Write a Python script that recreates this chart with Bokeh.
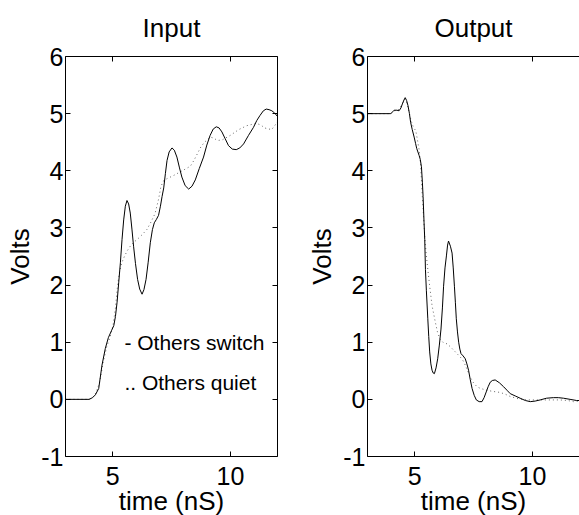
from bokeh.plotting import figure
from bokeh.layouts import row
from bokeh.models import Range1d, LinearAxis, FixedTicker, CustomJSTickFormatter
from bokeh.core.properties import value
from bokeh.embed import file_html
from bokeh.resources import INLINE

FONT = "Liberation Sans"

# ---------------- data ----------------
x_ticks = [5, 10]
y_ticks = [-1, 0, 1, 2, 3, 4, 5, 6]

in_switch_t = [3.0, 4.0, 4.15, 4.27, 4.41, 4.55, 4.69, 4.82, 4.95, 5.05, 5.12, 5.19, 5.26, 5.33,
               5.40, 5.47, 5.54, 5.61, 5.68, 5.75, 5.82, 5.89, 5.97, 6.06, 6.15, 6.25, 6.33, 6.42,
               6.51, 6.60, 6.69, 6.77, 6.86, 6.95, 7.03, 7.10, 7.17, 7.24, 7.31, 7.40, 7.52, 7.62,
               7.73, 7.84, 7.94, 8.08, 8.23, 8.37, 8.51, 8.68, 8.86, 9.00, 9.14, 9.27, 9.40, 9.52,
               9.64, 9.78, 9.92, 10.08, 10.25, 10.40, 10.56, 10.77, 10.98, 11.12, 11.26, 11.40,
               11.52, 11.64, 11.76, 11.88, 12.0]
in_switch_v = [0, 0, 0.03, 0.08, 0.19, 0.60, 0.89, 1.08, 1.20, 1.29, 1.45, 1.70, 2.05, 2.39,
               2.80, 3.14, 3.38, 3.48, 3.42, 3.26, 2.98, 2.68, 2.38, 2.10, 1.93, 1.84, 1.92, 2.10,
               2.40, 2.74, 2.97, 3.09, 3.15, 3.22, 3.38, 3.55, 3.70, 3.95, 4.18, 4.33, 4.40, 4.36,
               4.24, 4.05, 3.89, 3.74, 3.68, 3.73, 3.84, 4.04, 4.24, 4.45, 4.62, 4.73, 4.77, 4.75,
               4.68, 4.56, 4.44, 4.38, 4.37, 4.40, 4.47, 4.62, 4.76, 4.88, 4.97, 5.05,
               5.08, 5.07, 5.05, 5.01, 4.95]

in_quiet_t = [3.0, 4.0, 4.15, 4.3, 4.45, 4.6, 4.75, 4.9, 5.02, 5.12, 5.2, 5.28, 5.38, 5.5, 5.62,
              5.75, 5.9, 6.05, 6.25, 6.45, 6.6, 6.8, 6.95, 7.05, 7.15, 7.3, 7.6, 8.0, 8.3, 8.45,
              8.6, 8.75, 8.9, 9.15, 9.3, 9.45, 9.65, 10.0, 10.35, 10.7, 11.1, 11.3, 11.45, 11.75,
              11.9, 12.0]
in_quiet_v = [0, 0, 0.03, 0.12, 0.30, 0.65, 0.92, 1.10, 1.30, 1.60, 1.95, 2.20, 2.38, 2.50, 2.60,
              2.68, 2.75, 2.80, 2.88, 2.97, 3.08, 3.25, 3.50, 3.72, 3.82, 3.86, 3.92, 4.01, 4.08, 4.18,
              4.30, 4.42, 4.50, 4.59, 4.57, 4.53, 4.54, 4.62, 4.72, 4.79, 4.83, 4.80, 4.75, 4.72,
              4.80, 4.86]

out_switch_t = [3.0, 3.99, 4.06, 4.13, 4.25, 4.34, 4.42, 4.48, 4.55, 4.60, 4.66, 4.72, 4.78, 4.83,
                4.90, 4.98, 5.04, 5.09, 5.19, 5.24, 5.29, 5.33, 5.36, 5.40, 5.43, 5.46, 5.50, 5.56,
                5.60, 5.64, 5.69, 5.74, 5.79, 5.84, 5.91, 5.98, 6.05, 6.12, 6.18, 6.23, 6.29, 6.35,
                6.40, 6.44, 6.52, 6.59, 6.64, 6.69, 6.73, 6.77, 6.82, 6.87, 6.92, 6.97, 7.06, 7.15,
                7.22, 7.29, 7.36, 7.44, 7.53, 7.62, 7.74, 7.86, 7.95, 8.04, 8.12, 8.21, 8.30, 8.42,
                8.6, 8.78, 8.92, 9.06, 9.27, 9.48, 9.7, 9.91, 10.12, 10.33, 10.6, 10.89, 11.1,
                11.32, 11.6, 11.88, 12.0]
out_switch_v = [5.0, 5.0, 5.03, 5.06, 5.06, 5.05, 5.10, 5.17, 5.24, 5.28, 5.23, 5.14, 5.00, 4.85,
                4.72, 4.59, 4.48, 4.39, 4.27, 4.20, 4.07, 3.80, 3.55, 3.10, 2.80, 2.27, 1.90, 1.41,
                1.10, 0.83, 0.62, 0.51, 0.46, 0.45, 0.55, 0.71, 0.95, 1.23, 1.60, 1.98, 2.30, 2.51,
                2.70, 2.77, 2.68, 2.56, 2.30, 1.98, 1.70, 1.41, 1.18, 1.00, 0.88, 0.80, 0.76, 0.71,
                0.62, 0.51, 0.35, 0.19, 0.07, -0.01, -0.04, -0.04, 0.03, 0.13, 0.22, 0.30, 0.33, 0.34,
                0.29, 0.22, 0.16, 0.10, 0.06, 0.02, -0.02, -0.04, -0.03, -0.01, 0.02, 0.03, 0.03,
                0.02, 0.0, -0.02, -0.02]

out_quiet_t = [3.0, 4.0, 4.13, 4.3, 4.45, 4.58, 4.66, 4.75, 4.85, 4.95, 5.05, 5.12, 5.2, 5.26,
               5.32, 5.38, 5.43, 5.48, 5.53, 5.58, 5.64, 5.74, 5.88, 5.97, 6.07, 6.2, 6.38, 6.52,
               6.66, 6.8, 6.94, 7.05, 7.15, 7.25, 7.36, 7.5, 7.65, 7.8, 8.07, 8.3, 8.49, 8.64,
               8.85, 9.06, 9.4, 9.77, 10.47, 11.17, 11.5, 11.74, 12.0]
out_quiet_v = [5.0, 5.0, 5.05, 5.06, 5.15, 5.25, 5.20, 5.05, 4.88, 4.76, 4.70, 4.54, 4.35, 4.07,
               3.60, 3.20, 2.85, 2.60, 2.39, 2.20, 1.98, 1.64, 1.35, 1.18, 1.06, 1.00, 0.97, 0.92,
               0.86, 0.80, 0.74, 0.68, 0.60, 0.50, 0.39, 0.29, 0.22, 0.19, 0.16, 0.14, 0.13, 0.12,
               0.09, 0.05, 0.01, -0.01, -0.01, -0.01, -0.02, -0.04, -0.03]

legend_texts = ["- Others switch", ".. Others quiet"]
legend_x = [5.5, 5.5]
legend_y = [1.0, 0.3]

titles = ["Input", "Output"]
x_label = "time (nS)"
y_label = "Volts"

FIG_H = 518
BLANK = "return ''"


def blank_axis(ticks, line_color):
    return LinearAxis(ticker=FixedTicker(ticks=ticks),
                      formatter=CustomJSTickFormatter(code=BLANK),
                      major_label_text_font_size="1px", major_label_standoff=0,
                      major_tick_in=5, major_tick_out=0, minor_tick_line_color=None,
                      axis_line_color=line_color, major_tick_line_color="black")


def make_fig(title, width, border_left, border_right, with_right):
    p = figure(width=width, height=FIG_H, output_backend="svg", toolbar_location=None,
               x_range=Range1d(3, 12), y_range=Range1d(-1, 6),
               min_border_left=border_left, min_border_right=border_right,
               min_border_top=55, min_border_bottom=60)
    p.outline_line_color = None
    p.xgrid.visible = False
    p.ygrid.visible = False
    p.background_fill_color = "white"
    p.border_fill_color = "white"
    p.title.text = title
    p.title.align = "center"
    p.title.vertical_align = "top"
    p.title.text_font = FONT
    p.title.text_font_size = "26px"
    p.title.text_font_style = "normal"
    p.title.text_color = "black"
    p.title.standoff = 24

    p.xaxis.ticker = FixedTicker(ticks=x_ticks)
    p.yaxis.ticker = FixedTicker(ticks=y_ticks)
    p.yaxis.major_label_overrides = {-1: "-1"}
    p.xaxis.axis_label = x_label
    p.yaxis.axis_label = y_label
    for ax in p.xaxis + p.yaxis:
        ax.major_tick_in = 5
        ax.major_tick_out = 0
        ax.minor_tick_line_color = None
        ax.axis_line_color = "black"
        ax.major_tick_line_color = "black"
        ax.major_label_text_font = FONT
        ax.major_label_text_font_size = "25px"
        ax.major_label_text_color = "black"
        ax.axis_label_text_font = FONT
        ax.axis_label_text_font_size = "26px"
        ax.axis_label_text_font_style = "normal"
        ax.axis_label_text_color = "black"
    p.xaxis.major_label_standoff = 10
    p.xaxis.axis_label_standoff = -2
    p.yaxis.major_label_standoff = 2
    p.yaxis.axis_label_standoff = 3

    p.add_layout(blank_axis(x_ticks, "black"), "above")
    if with_right:
        p.add_layout(blank_axis(y_ticks, "black"), "right")
    return p


p1 = make_fig(titles[0], 288, 65, 11, True)
p1.line(in_quiet_t, in_quiet_v, line_color="#666666", line_width=1, line_dash="1 3")
p1.line(in_switch_t, in_switch_v, line_color="black", line_width=1)
p1.text(x=legend_x, y=legend_y, text=legend_texts, text_font=value(FONT),
        text_font_size="21px", text_baseline="middle", text_align="left", text_color="black")

# right panel: its far (right) edge sits at the window's edge, as in the reference
p2 = make_fig(titles[1], 291, 79, 0, False)
p2.line(out_quiet_t, out_quiet_v, line_color="#666666", line_width=1, line_dash="1 3")
p2.line(out_switch_t, out_switch_v, line_color="black", line_width=1)

layout = row(p1, p2)
open("out.html", "w").write(file_html(layout, INLINE))
